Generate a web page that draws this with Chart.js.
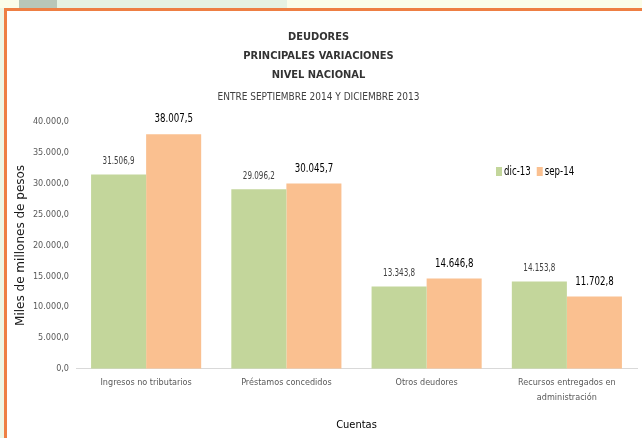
<!DOCTYPE html>
<html>
<head>
<meta charset="utf-8">
<script src="https://cdn.jsdelivr.net/npm/chart.js@4"></script>
<style>
  html, body { margin: 0; padding: 0; }
  body { width: 642px; height: 438px; position: relative; overflow: hidden; background: #fbfde9; }
  .strip1 { position: absolute; left: 19px; top: 0; width: 38px; height: 8px; background: #b8c7b8; }
  .strip2 { position: absolute; left: 57px; top: 0; width: 230px; height: 8px; background: #e6f2e2; }
  .leftedge { position: absolute; left: 0; top: 8px; width: 4px; height: 430px; background: #eef5e4; }
  .frame { position: absolute; left: 4px; top: 8px; right: 0; bottom: 0; background: #fff;
           border-top: 3px solid #ee7f43; border-left: 3px solid #ee7f43; }
  canvas { position: absolute; left: 0; top: 0; }
</style>
</head>
<body>
<div class="strip1"></div>
<div class="strip2"></div>
<div class="leftedge"></div>
<div class="frame"></div>
<canvas id="deudoresChart" width="642" height="438"></canvas>
<script>
// Datos del gráfico
const categorias = [
  "Ingresos no tributarios",
  "Préstamos concedidos",
  "Otros deudores",
  ["Recursos entregados en", "administración"],
];
const series = ["dic-13", "sep-14"];
const dic13 = [31506.9, 29096.2, 13343.8, 14153.8];
const sep14 = [38007.5, 30045.7, 14646.8, 11702.8];
const ejeY = [0, 5000, 10000, 15000, 20000, 25000, 30000, 35000, 40000];

const FUENTE = "'Liberation Sans Narrow', 'DejaVu Sans Condensed', sans-serif";

// formato 38.007,5
function formatoNumero(n) {
  const partes = n.toFixed(1).split(".");
  partes[0] = partes[0].replace(/\B(?=(\d{3})+(?!\d))/g, ".");
  return partes.join(",");
}

// texto un poco más estrecho, como en el original
function textoEstrecho(ctx, texto, x, y, factor) {
  ctx.save();
  ctx.translate(x, y);
  ctx.scale(factor, 1);
  ctx.fillText(texto, 0, 0);
  ctx.restore();
}

// Etiquetas de valores sobre las barras
const etiquetasValores = {
  id: "etiquetasValores",
  afterDatasetsDraw(chart) {
    const ctx = chart.ctx;
    ctx.save();
    ctx.textAlign = "center";
    ctx.textBaseline = "middle";
    chart.data.datasets.forEach((ds, i) => {
      const meta = chart.getDatasetMeta(i);
      ctx.font = i === 0 ? "10px " + FUENTE : "12px " + FUENTE;
      ctx.fillStyle = i === 0 ? "#404040" : "#000000";
      const separacion = i === 0 ? 13 : 15;
      meta.data.forEach((bar, j) => {
        textoEstrecho(ctx, formatoNumero(ds.data[j]), bar.x, bar.y - separacion, 0.8);
      });
    });
    ctx.restore();
  },
};

// Leyenda a la derecha
const leyenda = {
  id: "leyenda",
  afterDraw(chart) {
    const ctx = chart.ctx;
    ctx.save();
    ctx.font = "12px " + FUENTE;
    ctx.textBaseline = "middle";
    ctx.textAlign = "left";
    let x = 496;
    const y = 171.5;
    chart.data.datasets.forEach((ds) => {
      ctx.fillStyle = ds.backgroundColor;
      ctx.fillRect(x, y - 4.5, 6, 9);
      ctx.fillStyle = "#000000";
      textoEstrecho(ctx, ds.label, x + 8, y, 0.8);
      x += 8 + ctx.measureText(ds.label).width * 0.8 + 6;
    });
    ctx.restore();
  },
};

const ctx = document.getElementById("deudoresChart").getContext("2d");
new Chart(ctx, {
  type: "bar",
  data: {
    labels: categorias,
    datasets: [
      { label: series[0], data: dic13, backgroundColor: "#c3d69b" },
      { label: series[1], data: sep14, backgroundColor: "#fac090" },
    ],
  },
  options: {
    responsive: false,
    animation: false,
    layout: { padding: { left: 0, right: 5, top: 0, bottom: 6 } },
    datasets: {
      bar: { categoryPercentage: 0.785, barPercentage: 1 },
    },
    plugins: {
      legend: { display: false },
      tooltip: { enabled: false },
      title: {
        display: true,
        text: ["DEUDORES", "PRINCIPALES VARIACIONES", "NIVEL NACIONAL"],
        color: "#333333",
        font: { family: FUENTE, size: 11, weight: "bold", lineHeight: 19 / 11 },
        padding: { top: 28, bottom: 6 },
      },
      subtitle: {
        display: true,
        text: "ENTRE SEPTIEMBRE 2014 Y DICIEMBRE 2013",
        color: "#404040",
        font: { family: FUENTE, size: 10, lineHeight: 1.2 },
        padding: { top: 0, bottom: 19 },
      },
    },
    scales: {
      x: {
        grid: { display: false, drawTicks: false },
        border: { display: true, color: "#d9d9d9", width: 1 },
        ticks: {
          color: "#595959",
          font: { family: FUENTE, size: 9, lineHeight: 15 / 9 },
          padding: 6,
          maxRotation: 0,
          autoSkip: false,
        },
        title: {
          display: true,
          text: "Cuentas",
          color: "#000000",
          font: { family: FUENTE, size: 11, lineHeight: 1.2 },
          padding: { top: 8, bottom: 0 },
        },
      },
      y: {
        min: ejeY[0],
        max: ejeY[ejeY.length - 1],
        afterBuildTicks(scale) {
          scale.ticks = ejeY.map((v) => ({ value: v }));
        },
        afterFit(scale) {
          scale.width = 76;
        },
        grid: { display: false, drawTicks: false },
        border: { display: false },
        ticks: {
          color: "#595959",
          font: { family: FUENTE, size: 9 },
          padding: 7,
          callback: (v) => formatoNumero(v),
        },
        title: {
          display: true,
          text: "Miles de millones de pesos",
          color: "#1a1a1a",
          font: { family: "'DejaVu Sans', sans-serif", size: 12, lineHeight: 1.2 },
          padding: { top: 14, bottom: 0 },
        },
      },
    },
  },
  plugins: [etiquetasValores, leyenda],
});
</script>
</body>
</html>
